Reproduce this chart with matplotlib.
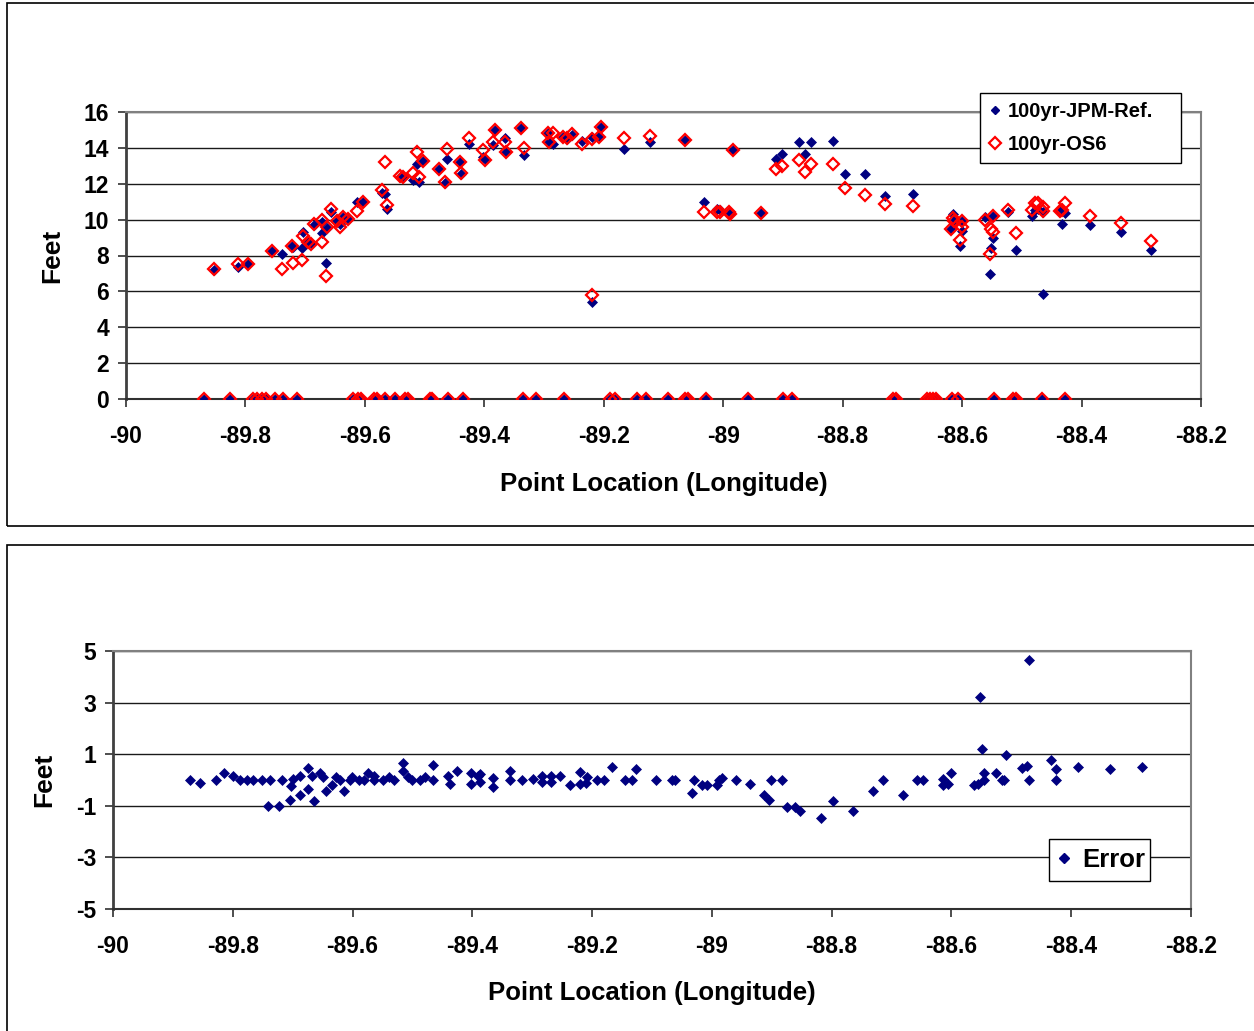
import matplotlib
matplotlib.use("Agg")
import matplotlib.pyplot as plt
from matplotlib.patches import Rectangle
from matplotlib.lines import Line2D

plt.rcParams['font.family'] = ['Liberation Sans', 'DejaVu Sans']
plt.rcParams['font.weight'] = 'bold'
plt.rcParams['axes.unicode_minus'] = False

# ---- 100-year surge elevations at wet save points (longitude, feet) ----
lon_wet = [-89.852, -89.812, -89.795, -89.756, -89.738, -89.722, -89.720, -89.705,
           -89.703, -89.695, -89.690, -89.686, -89.672, -89.671, -89.665, -89.664,
           -89.657, -89.647, -89.642, -89.636, -89.628, -89.613, -89.603, -89.572,
           -89.566, -89.563, -89.541, -89.536, -89.520, -89.513, -89.509, -89.502,
           -89.476, -89.466, -89.463, -89.440, -89.439, -89.426, -89.402, -89.399,
           -89.386, -89.382, -89.365, -89.364, -89.339, -89.334, -89.293, -89.292,
           -89.285, -89.268, -89.262, -89.254, -89.236, -89.220, -89.219, -89.208,
           -89.205, -89.166, -89.123, -89.064, -89.033, -89.011, -89.005, -88.991,
           -88.989, -88.983, -88.937, -88.911, -88.902, -88.873, -88.863, -88.853,
           -88.817, -88.796, -88.763, -88.729, -88.683, -88.618, -88.615, -88.613,
           -88.604, -88.601, -88.600, -88.562, -88.553, -88.551, -88.549, -88.548,
           -88.524, -88.510, -88.483, -88.478, -88.473, -88.465, -88.464, -88.436,
           -88.432, -88.427, -88.386, -88.334, -88.283]
jpm_wet = [7.20, 7.35, 7.50, 8.25, 8.10, 8.55, 8.45, 8.40,
           9.30, 8.80, 8.70, 9.70, 9.25, 9.85, 7.60, 9.55,
           10.40, 9.95, 9.75, 10.15, 10.05, 11.00, 11.00, 11.50,
           11.45, 10.60, 12.35, 12.40, 12.20, 13.10, 12.10, 13.25,
           12.85, 12.05, 13.40, 13.20, 12.55, 14.20, 13.50, 13.40,
           14.15, 15.00, 14.55, 13.75, 15.10, 13.60, 14.85, 14.30,
           14.20, 14.60, 14.50, 14.70, 14.40, 14.60, 5.40, 14.65,
           15.15, 13.95, 14.30, 14.45, 11.00, 10.60, 10.55, 10.45,
           10.30, 13.90, 10.35, 13.40, 13.65, 14.30, 13.65, 14.30,
           14.40, 12.55, 12.55, 11.30, 11.45, 9.45, 10.30, 9.90,
           8.55, 9.95, 9.35, 10.15, 6.95, 8.40, 10.20, 9.00,
           10.40, 8.30, 10.20, 10.55, 10.60, 10.45, 5.85, 10.50,
           9.75, 10.35, 9.70, 9.30, 8.30]
os6_wet = [7.25, 7.50, 7.50, 8.25, 7.25, 8.55, 7.60, 7.75,
           9.10, 8.75, 8.65, 9.75, 8.75, 10.00, 6.85, 9.60,
           10.60, 9.95, 9.60, 10.15, 10.05, 10.50, 11.00, 11.65,
           13.20, 10.80, 12.45, 12.40, 12.60, 13.75, 12.40, 13.25,
           12.85, 12.10, 13.95, 13.20, 12.60, 14.55, 13.90, 13.30,
           14.30, 15.00, 14.30, 13.75, 15.10, 14.00, 14.85, 14.30,
           14.85, 14.60, 14.55, 14.75, 14.20, 14.50, 5.80, 14.60,
           15.15, 14.55, 14.65, 14.45, 10.40, 10.40, 10.45, 10.45,
           10.30, 13.90, 10.35, 12.85, 13.00, 13.30, 12.65, 13.10,
           13.10, 11.75, 11.40, 10.85, 10.75, 9.45, 10.10, 9.90,
           8.85, 9.90, 9.60, 10.00, 8.10, 9.50, 10.20, 9.30,
           10.55, 9.25, 10.55, 10.95, 10.95, 10.70, 10.50, 10.50,
           10.55, 10.90, 10.20, 9.80, 8.80]

# ---- dry save points (0 ft in both runs) ----
lon_dry = [-89.869, -89.826, -89.787, -89.780, -89.773, -89.765, -89.751, -89.737,
           -89.713, -89.620, -89.612, -89.606, -89.584, -89.580, -89.566, -89.549,
           -89.533, -89.527, -89.491, -89.488, -89.461, -89.435, -89.336, -89.313,
           -89.267, -89.190, -89.181, -89.144, -89.130, -89.093, -89.064, -89.059,
           -89.029, -88.959, -88.900, -88.885, -88.715, -88.710, -88.659, -88.654,
           -88.648, -88.643, -88.617, -88.607, -88.547, -88.514, -88.509, -88.466,
           -88.427]
zero_dry = [0.0] * len(lon_dry)

# ---- OS6 minus JPM reference (feet) ----
lon_err = [-89.871, -89.855, -89.828, -89.814, -89.799, -89.788, -89.777, -89.766,
           -89.752, -89.738, -89.741, -89.722, -89.717, -89.704, -89.702, -89.699,
           -89.688, -89.688, -89.675, -89.675, -89.667, -89.664, -89.654, -89.649,
           -89.644, -89.635, -89.628, -89.621, -89.614, -89.605, -89.601, -89.589,
           -89.581, -89.575, -89.565, -89.565, -89.549, -89.539, -89.530, -89.515,
           -89.515, -89.507, -89.501, -89.487, -89.479, -89.466, -89.466, -89.440,
           -89.438, -89.426, -89.402, -89.402, -89.390, -89.387, -89.387, -89.366,
           -89.366, -89.337, -89.337, -89.317, -89.298, -89.284, -89.284, -89.268,
           -89.268, -89.254, -89.237, -89.220, -89.220, -89.209, -89.211, -89.192,
           -89.180, -89.166, -89.145, -89.134, -89.127, -89.094, -89.067, -89.062,
           -89.034, -89.030, -89.016, -89.008, -88.992, -88.988, -88.983, -88.960,
           -88.936, -88.913, -88.905, -88.901, -88.883, -88.874, -88.861, -88.853,
           -88.818, -88.797, -88.765, -88.731, -88.714, -88.681, -88.658, -88.648,
           -88.614, -88.614, -88.605, -88.600, -88.562, -88.555, -88.552, -88.549,
           -88.545, -88.545, -88.526, -88.515, -88.512, -88.509, -88.483, -88.474,
           -88.470, -88.470, -88.433, -88.425, -88.425, -88.389, -88.336, -88.282]
err_ft = [0.00, -0.10, 0.00, 0.28, 0.15, 0.00, 0.00, 0.00,
          0.00, 0.00, -0.99, -0.99, 0.00, -0.76, -0.24, 0.02,
          -0.57, 0.15, -0.35, 0.45, 0.15, -0.83, 0.28, 0.12,
          -0.44, -0.18, 0.12, 0.00, -0.44, 0.00, 0.12, 0.00,
          0.00, 0.28, 0.15, 0.00, 0.00, 0.12, 0.00, 0.67,
          0.35, 0.12, 0.00, 0.00, 0.12, 0.58, 0.00, 0.15,
          -0.15, 0.35, 0.28, -0.14, 0.15, 0.22, -0.09, 0.09,
          -0.27, 0.35, 0.00, 0.00, 0.02, 0.15, -0.09, 0.15,
          -0.09, 0.15, -0.20, 0.31, -0.14, 0.12, -0.10, 0.00,
          0.00, 0.52, 0.00, 0.00, 0.44, 0.00, 0.00, 0.00,
          -0.50, 0.00, -0.20, -0.20, -0.20, 0.00, 0.09, 0.00,
          -0.14, -0.57, -0.76, 0.00, 0.00, -1.03, -1.03, -1.22,
          -1.46, -0.83, -1.22, -0.44, 0.00, -0.60, 0.00, 0.00,
          0.02, -0.20, -0.14, 0.28, -0.20, -0.14, 3.22, 1.20,
          0.28, 0.00, 0.28, 0.00, 0.00, 0.96, 0.45, 0.54,
          0.00, 4.65, 0.78, 0.44, 0.00, 0.50, 0.44, 0.50]

x_ticks = [-90, -89.8, -89.6, -89.4, -89.2, -89, -88.8, -88.6, -88.4, -88.2]
x_ticklabels = ['-90', '-89.8', '-89.6', '-89.4', '-89.2', '-89', '-88.8', '-88.6', '-88.4', '-88.2']
top_yticks = [0, 2, 4, 6, 8, 10, 12, 14, 16]
err_yticks = [-5, -3, -1, 1, 3, 5]

NAVY = '#000080'
RED = '#ff0000'
W, H = 1254, 1031

fig = plt.figure(figsize=(W / 100, H / 100), dpi=100)
fig.patch.set_facecolor('white')

# chart-area borders
fig.add_artist(Rectangle((7 / W, 1 - 526 / H), 1300 / W, 523 / H, transform=fig.transFigure,
                         fill=False, ec='black', lw=1.2, clip_on=False))
fig.add_artist(Rectangle((7 / W, -0.05), 1300 / W, 0.05 + (H - 545) / H, transform=fig.transFigure,
                         fill=False, ec='black', lw=1.2, clip_on=False))


def style_axes(ax, xlabel_pad, ylabel_pad):
    ax.set_xlim(-90, -88.2)
    ax.set_xticks(x_ticks)
    ax.set_xticklabels(x_ticklabels)
    ax.grid(axis='y', color='#1a1a1a', lw=1.0)
    ax.set_axisbelow(True)
    for s in ('top', 'right'):
        ax.spines[s].set_color('#808080')
        ax.spines[s].set_linewidth(1.5)
    ax.spines['left'].set_color('#404040')
    ax.spines['left'].set_linewidth(2.0)
    ax.spines['bottom'].set_color('#303030')
    ax.spines['bottom'].set_linewidth(1.5)
    ax.tick_params(axis='x', direction='out', length=6, width=1.2, pad=13,
                   labelsize=16.5, colors='#303030', labelcolor='black')
    ax.tick_params(axis='y', direction='out', length=6, width=1.2, pad=6,
                   labelsize=16.5, colors='#303030', labelcolor='black')
    for lab in ax.get_xticklabels() + ax.get_yticklabels():
        lab.set_fontweight('bold')
    ax.set_xlabel('Point Location (Longitude)', fontsize=18.5, fontweight='bold',
                  labelpad=xlabel_pad)
    ax.set_ylabel('Feet', fontsize=19, fontweight='bold', labelpad=ylabel_pad)


# ---- top: surge elevations ----
ax1 = fig.add_axes([126 / W, 1 - 399 / H, 1075 / W, 287 / H])
ax1.plot(lon_wet, jpm_wet, linestyle='none', marker='D', ms=5.4, mfc=NAVY, mec=NAVY,
         mew=0.5, zorder=3)
ax1.plot(lon_dry, zero_dry, linestyle='none', marker='D', ms=5.4, mfc=NAVY, mec=NAVY,
         mew=0.5, zorder=3)
ax1.plot(lon_wet, os6_wet, linestyle='none', marker='D', ms=6.2, mfc='none', mec=RED,
         mew=1.6, zorder=4)
ax1.plot(lon_dry, zero_dry, linestyle='none', marker='D', ms=6.2, mfc='none', mec=RED,
         mew=1.6, zorder=4)
ax1.set_ylim(0, 16)
ax1.set_yticks(top_yticks)
style_axes(ax1, 17, 14)

h1 = Line2D([], [], linestyle='none', marker='D', ms=4.5, mfc=NAVY, mec=NAVY)
h2 = Line2D([], [], linestyle='none', marker='D', ms=6.0, mfc='none', mec=RED, mew=1.6)
leg1 = fig.legend([h1, h2], ['100yr-JPM-Ref.', '100yr-OS6'], loc='upper left',
                  bbox_to_anchor=(980 / W, 1 - 167 / H, 201 / W, 74 / H),
                  bbox_transform=fig.transFigure, mode='expand',
                  fontsize=14.5, frameon=True, fancybox=False, edgecolor='black',
                  framealpha=1, handlelength=0.6, handletextpad=0.35, borderpad=0.45,
                  labelspacing=0.7, borderaxespad=0)
leg1.get_frame().set_linewidth(1.0)
for t in leg1.get_texts():
    t.set_fontweight('bold')

# ---- bottom: difference ----
ax2 = fig.add_axes([113 / W, 1 - 909 / H, 1078 / W, 258 / H])
ax2.plot(lon_err, err_ft, linestyle='none', marker='D', ms=4.7, mfc=NAVY, mec=NAVY,
         mew=0.5, zorder=3)
ax2.set_ylim(-5, 5)
ax2.set_yticks(err_yticks)
style_axes(ax2, 16, 14)

h3 = Line2D([], [], linestyle='none', marker='D', ms=4.6, mfc=NAVY, mec=NAVY)
leg2 = fig.legend([h3], ['Error'], loc='upper left',
                  bbox_to_anchor=(1049 / W, 1 - 880 / H, 101 / W, 41 / H),
                  bbox_transform=fig.transFigure, mode='expand',
                  fontsize=18.5, frameon=True, fancybox=False, edgecolor='black',
                  framealpha=1, handlelength=0.5, handletextpad=0.45, borderpad=0.35,
                  borderaxespad=0)
leg2.get_frame().set_linewidth(1.0)
for t in leg2.get_texts():
    t.set_fontweight('bold')

fig.savefig('out.png', dpi=100, facecolor='white')
